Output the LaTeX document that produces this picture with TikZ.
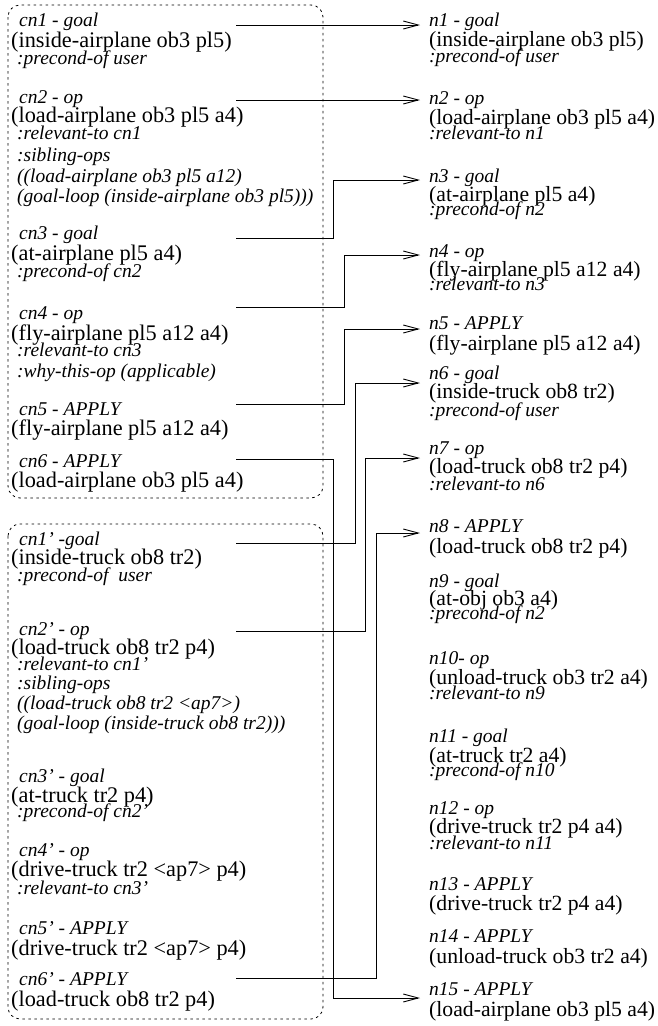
\documentclass[tikz,border=0pt]{standalone}
\usepackage{fontspec}
\setmainfont{Liberation Serif}
\usetikzlibrary{arrows.meta}
\begin{document}
\begin{tikzpicture}[x=1pt,y=-1pt,
  it/.style={anchor=west,inner sep=0pt,font=\fontsize{19.5}{20}\selectfont\itshape,text height=11pt,text depth=1.8pt},
  up/.style={anchor=west,inner sep=0pt,font=\fontsize{22.3}{23}\selectfont,text height=12.3pt,text depth=1.8pt},
  upr/.style={anchor=west,inner sep=0pt,font=\fontsize{21.7}{22}\selectfont,text height=12pt,text depth=1.8pt},
  conn/.style={line width=0.9pt,line join=miter,-{Straight Barb[length=15pt,width=8pt,line width=0.9pt]}},
  grp/.style={line width=0.8pt,dash pattern=on 2.5pt off 3.5pt,rounded corners=12pt}]
\useasboundingbox (0,0) rectangle (657,1026);

% groups
\draw[grp] (8,5) rectangle (323,498);
\draw[grp] (8,524) rectangle (323,1019);

% left column, first group
\node[it] (cn1) at (19,22) {cn1 - goal};
\node[up] (cn1a) at (11,42) {(inside-airplane ob3 pl5)};
\node[it] (cn1b) at (17,60) {:precond-of user};
\node[it] (cn2) at (19,99) {cn2 - op};
\node[up] (cn2a) at (11,117) {(load-airplane ob3 pl5 a4)};
\node[it] (cn2b) at (17,135) {:relevant-to cn1};
\node[it] (cn2c) at (17,157) {:sibling-ops};
\node[it] (cn2d) at (17,178) {((load-airplane ob3 pl5 a12)};
\node[it] (cn2e) at (17,198) {(goal-loop (inside-airplane ob3 pl5)))};
\node[it] (cn3) at (19,235) {cn3 - goal};
\node[up] (cn3a) at (11,255) {(at-airplane pl5 a4)};
\node[it] (cn3b) at (17,273) {:precond-of cn2};
\node[it] (cn4) at (19,315) {cn4 - op};
\node[up] (cn4a) at (11,335) {(fly-airplane pl5 a12 a4)};
\node[it] (cn4b) at (17,352) {:relevant-to cn3};
\node[it] (cn4c) at (17,373) {:why-this-op (applicable)};
\node[it] (cn5) at (19,411) {cn5 - APPLY};
\node[up] (cn5a) at (11,430) {(fly-airplane pl5 a12 a4)};
\node[it] (cn6) at (19,463) {cn6 - APPLY};
\node[up] (cn6a) at (11,482) {(load-airplane ob3 pl5 a4)};

% left column, second group
\node[it] (cp1) at (19,541) {cn1' -goal};
\node[up] (cp1a) at (11,559) {(inside-truck ob8 tr2)};
\node[it] (cp1b) at (17,577) {:precond-of\ \ user};
\node[it] (cp2) at (19,631) {cn2' - op};
\node[up] (cp2a) at (11,649) {(load-truck ob8 tr2 p4)};
\node[it] (cp2b) at (17,666) {:relevant-to cn1'};
\node[it] (cp2c) at (17,685) {:sibling-ops};
\node[it] (cp2d) at (17,705) {((load-truck ob8 tr2 <ap7>)};
\node[it] (cp2e) at (17,725) {(goal-loop (inside-truck ob8 tr2)))};
\node[it] (cp3) at (19,778) {cn3' - goal};
\node[up] (cp3a) at (11,797) {(at-truck tr2 p4)};
\node[it] (cp3b) at (17,813) {:precond-of cn2'};
\node[it] (cp4) at (19,852) {cn4' - op};
\node[up] (cp4a) at (11,871) {(drive-truck tr2 <ap7> p4)};
\node[it] (cp4b) at (17,890) {:relevant-to cn3'};
\node[it] (cp5) at (19,930) {cn5' - APPLY};
\node[up] (cp5a) at (11,950) {(drive-truck tr2 <ap7> p4)};
\node[it] (cp6) at (19,981) {cn6' - APPLY};
\node[up] (cp6a) at (11,1001) {(load-truck ob8 tr2 p4)};

% right column
\node[it] (n1) at (429,22) {n1 - goal};
\node[upr] (n1a) at (429,41) {(inside-airplane ob3 pl5)};
\node[it] (n1b) at (429,58) {:precond-of user};
\node[it] (n2) at (429,100) {n2 - op};
\node[upr] (n2a) at (429,119) {(load-airplane ob3 pl5 a4)};
\node[it] (n2b) at (429,135) {:relevant-to n1};
\node[it] (n3) at (429,178) {n3 - goal};
\node[upr] (n3a) at (429,196) {(at-airplane pl5 a4)};
\node[it] (n3b) at (429,211) {:precond-of n2};
\node[it] (n4) at (429,253) {n4 - op};
\node[upr] (n4a) at (429,271) {(fly-airplane pl5 a12 a4)};
\node[it] (n4b) at (429,286) {:relevant-to n3};
\node[it] (n5) at (429,325) {n5 - APPLY};
\node[upr] (n5a) at (429,345) {(fly-airplane pl5 a12 a4)};
\node[it] (n6) at (429,375) {n6 - goal};
\node[upr] (n6a) at (429,393) {(inside-truck ob8 tr2)};
\node[it] (n6b) at (429,412) {:precond-of user};
\node[it] (n7) at (429,450) {n7 - op};
\node[upr] (n7a) at (429,468) {(load-truck ob8 tr2 p4)};
\node[it] (n7b) at (429,486) {:relevant-to n6};
\node[it] (n8) at (429,528) {n8 - APPLY};
\node[upr] (n8a) at (429,548) {(load-truck ob8 tr2 p4)};
\node[it] (n9) at (429,583) {n9 - goal};
\node[upr] (n9a) at (429,600) {(at-obj ob3 a4)};
\node[it] (n9b) at (429,615) {:precond-of n2};
\node[it] (n10) at (429,660) {n10- op};
\node[upr] (n10a) at (429,679) {(unload-truck ob3 tr2 a4)};
\node[it] (n10b) at (429,695) {:relevant-to n9};
\node[it] (n11) at (429,738) {n11 - goal};
\node[upr] (n11a) at (429,757) {(at-truck tr2 a4)};
\node[it] (n11b) at (429,772) {:precond-of n10};
\node[it] (n12) at (429,810) {n12 - op};
\node[upr] (n12a) at (429,828) {(drive-truck tr2 p4 a4)};
\node[it] (n12b) at (429,845) {:relevant-to n11};
\node[it] (n13) at (429,886) {n13 - APPLY};
\node[upr] (n13a) at (429,905) {(drive-truck tr2 p4 a4)};
\node[it] (n14) at (429,938) {n14 - APPLY};
\node[upr] (n14a) at (429,958) {(unload-truck ob3 tr2 a4)};
\node[it] (n15) at (429,991) {n15 - APPLY};
\node[upr] (n15a) at (429,1011) {(load-airplane ob3 pl5 a4)};

% routing columns
\coordinate (S) at (236,0);
\coordinate (V1) at (333,0);
\coordinate (V2) at (344,0);
\coordinate (V3) at (355,0);
\coordinate (V4) at (365,0);
\coordinate (V5) at (376,0);

% connector start points
\coordinate (s1) at ([yshift=-3pt]cn1.west);
\coordinate (s2) at ([yshift=-1pt]cn2.west);
\coordinate (s3) at ([yshift=-3pt]cn3.west);
\coordinate (s4) at ([yshift=8pt]cn4.west);
\coordinate (s5) at ([yshift=7pt]cn5.west);
\coordinate (s6) at ([yshift=4pt]cn6.west);
\coordinate (s7) at ([yshift=-2pt]cp1.west);
\coordinate (s8) at (cp2.west);
\coordinate (s9) at ([yshift=3pt]cp6.west);

% connector end points
\coordinate (e1) at ([yshift=-3pt,xshift=-9pt]n1.west);
\coordinate (e2) at ([xshift=-9pt]n2.west);
\coordinate (e3) at ([yshift=-2pt,xshift=-9pt]n3.west);
\coordinate (e4) at ([yshift=-2pt,xshift=-9pt]n4.west);
\coordinate (e5) at ([yshift=-4pt,xshift=-9pt]n5.west);
\coordinate (e15) at ([yshift=-7pt,xshift=-9pt]n15.west);
\coordinate (e6) at ([yshift=-8pt,xshift=-9pt]n6.west);
\coordinate (e7) at ([yshift=-8pt,xshift=-9pt]n7.west);
\coordinate (e8) at ([yshift=-5pt,xshift=-9pt]n8.west);

\draw[conn] (s1 -| S) -- (e1);
\draw[conn] (s2 -| S) -- (e2);
\draw[conn] (s3 -| S) -| (e3 -| V1) -- (e3);
\draw[conn] (s4 -| S) -| (e4 -| V2) -- (e4);
\draw[conn] (s5 -| S) -| (e5 -| V2) -- (e5);
\draw[conn] (s6 -| S) -| (e15 -| V1) -- (e15);
\draw[conn] (s7 -| S) -| (e6 -| V3) -- (e6);
\draw[conn] (s8 -| S) -| (e7 -| V4) -- (e7);
\draw[conn] (s9 -| S) -| (e8 -| V5) -- (e8);
\end{tikzpicture}
\end{document}
